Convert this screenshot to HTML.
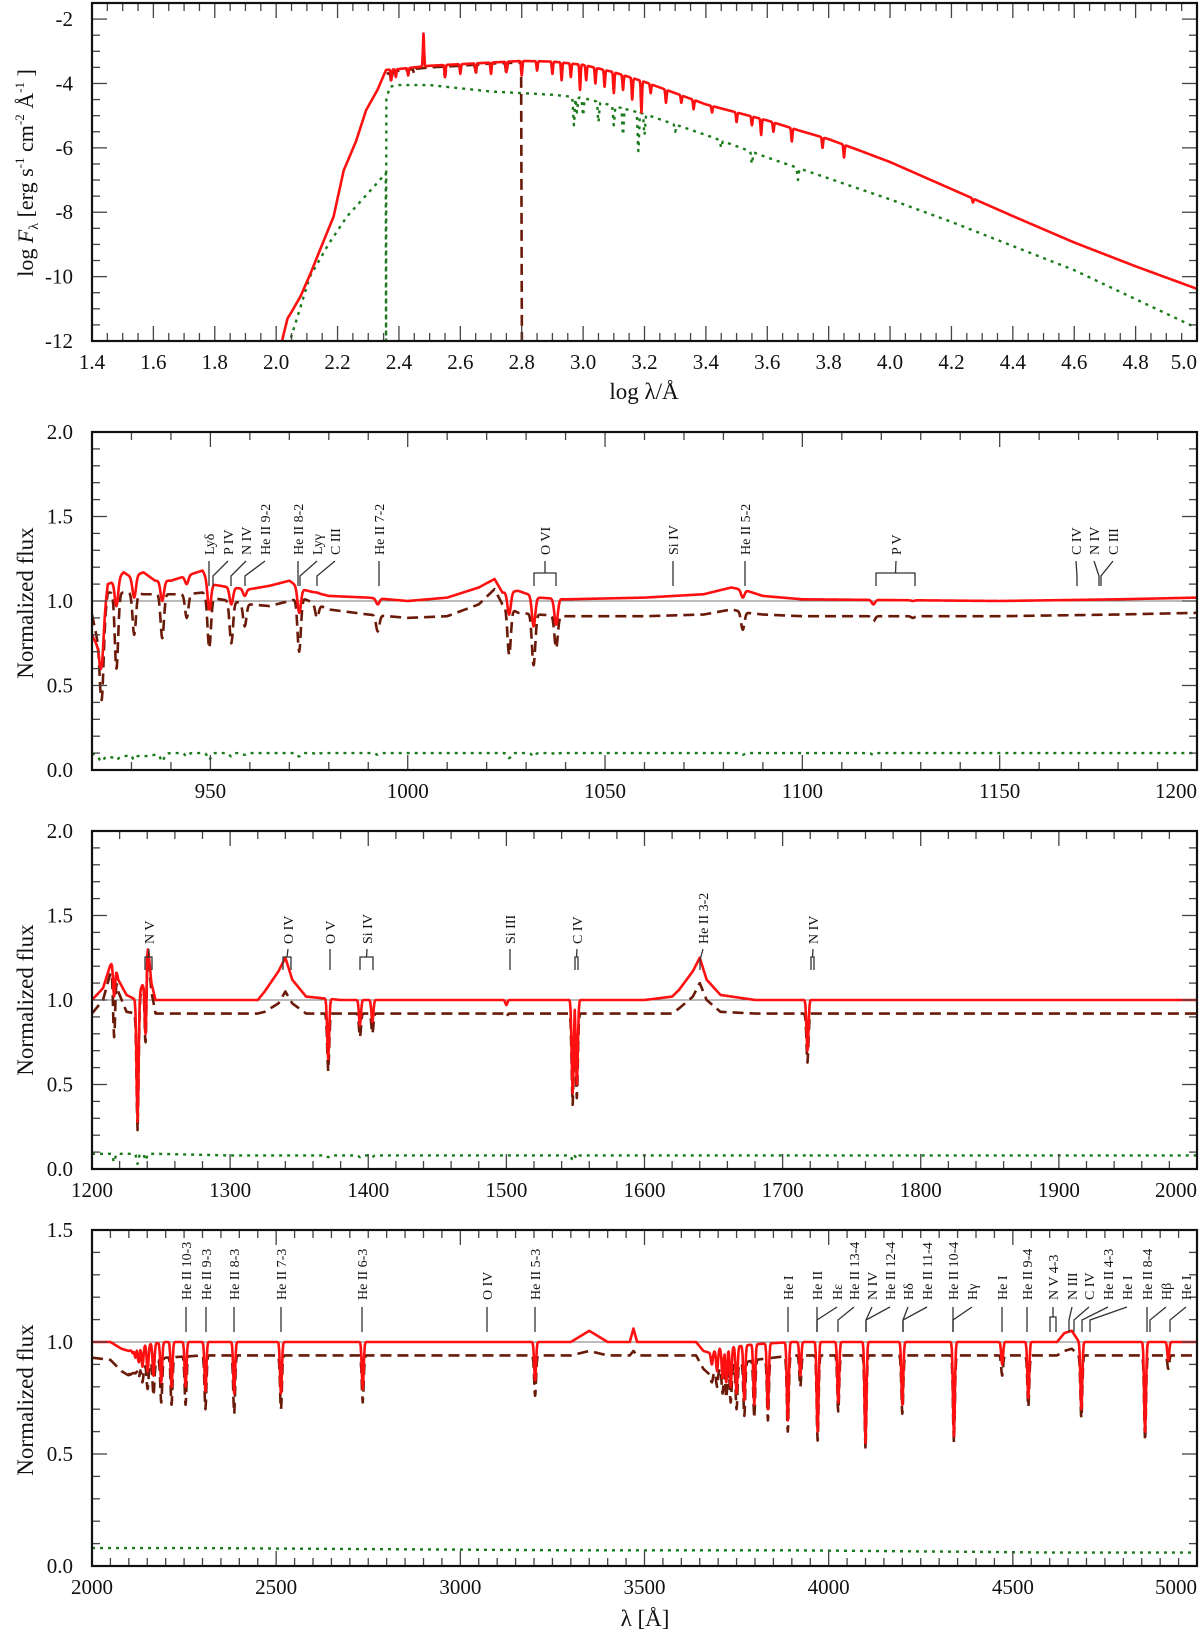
<!DOCTYPE html>
<html><head><meta charset="utf-8"><title>Spectral energy distribution and normalized spectra</title>
<style>
html,body{margin:0;padding:0;background:#fff;}
svg{display:block;font-family:"Liberation Serif",serif;}
</style></head>
<body>
<svg id="fig" width="1200" height="1634" viewBox="0 0 1200 1634" xmlns="http://www.w3.org/2000/svg"></svg>
<script>
// ---------- Panel 1 (SED) data ----------
const sedRedX=[2.019,2.037,2.05,2.08,2.112,2.15,2.187,2.22,2.26,2.293,2.33,2.358,2.4,2.5,2.6,2.7,2.8,2.9,3.0,3.1,3.2,3.3,3.4,3.5,3.6,3.7,3.8,3.9,4.0,4.2,4.4,4.6,4.8,5.0];
const sedRedY=[-12,-11.3,-11.1,-10.6,-9.9,-9.0,-8.14,-6.7,-5.8,-4.83,-4.2,-3.58,-3.55,-3.45,-3.4,-3.35,-3.3,-3.32,-3.42,-3.65,-3.95,-4.3,-4.65,-4.9,-5.15,-5.45,-5.73,-6.08,-6.44,-7.28,-8.12,-8.94,-9.68,-10.38];
const sedRedLineX=[2.48,2.375,2.39,2.43,2.55,2.6,2.65,2.7,2.75,2.8,2.85,2.9,2.93,2.96,2.99,3.01,3.04,3.07,3.1,3.13,3.16,3.19,3.22,3.27,3.32,3.36,3.42,3.5,3.55,3.58,3.62,3.68,3.78,3.85,4.27];
const sedRedLineY=[-2.45,-3.9,-3.8,-3.75,-3.8,-3.7,-3.65,-3.7,-3.65,-3.75,-3.6,-3.7,-3.9,-3.8,-4.2,-3.9,-4.0,-4.1,-4.3,-4.2,-4.5,-4.9,-4.3,-4.6,-4.6,-4.8,-4.9,-5.2,-5.3,-5.6,-5.5,-5.8,-6.0,-6.3,-7.7];
const sedBrownX=[2.36,2.4,2.5,2.6,2.7,2.798,2.8005];
const sedBrownY=[-3.7,-3.6,-3.5,-3.45,-3.38,-3.35,-12];
const sedBrownLineX=[2.375,2.45,2.55,2.65,2.75];
const sedBrownLineY=[-3.95,-3.7,-3.8,-3.7,-3.7];
const sedGreenX=[2.048,2.11,2.17,2.23,2.3,2.357,2.358,2.359,2.37,2.4,2.5,2.6,2.7,2.8,2.9,3.0,3.2,3.4,3.6,3.8,4.0,4.2,4.4,4.6,4.8,5.0];
const sedGreenY=[-11.9,-10.0,-9.0,-8.14,-7.4,-6.79,-12,-4.5,-4.1,-4.05,-4.05,-4.15,-4.25,-4.3,-4.35,-4.45,-4.95,-5.6,-6.3,-6.95,-7.6,-8.3,-9.05,-9.8,-10.7,-11.6];
const sedGreenLineX=[2.97,2.98,3.0,3.05,3.1,3.13,3.18,3.2,3.3,3.45,3.55,3.7];
const sedGreenLineY=[-5.3,-4.9,-5.0,-5.2,-5.3,-5.6,-6.1,-5.6,-5.5,-6.0,-6.5,-7.0];
const sedXTicks=[1.4,1.6,1.8,2.0,2.2,2.4,2.6,2.8,3.0,3.2,3.4,3.6,3.8,4.0,4.2,4.4,4.6,4.8,5.0];
const sedYTicks=[-2,-4,-6,-8,-10,-12];

// ---------- Panel 2 (FUV 920-1200) ----------
const p2ContX=[920,922,924,926,928,930,933,936,940,944,948,950,955,960,965,970,973,980,990,1000,1010,1018,1022,1024,1028,1033,1040,1060,1075,1082,1086,1090,1100,1150,1180,1200];
const p2RedCont=[0.8,0.7,1.1,1.12,1.17,1.14,1.17,1.12,1.12,1.15,1.18,1.1,1.08,1.07,1.09,1.12,1.07,1.03,1.02,1.0,1.02,1.08,1.13,1.05,1.06,1.02,1.01,1.02,1.04,1.08,1.06,1.03,1.01,1.0,1.01,1.02];
const p2BrownCont=[0.92,0.7,1.05,1.05,1.05,1.05,1.04,1.04,1.04,1.04,1.05,1.02,1.0,0.98,0.97,1.0,1.02,0.95,0.92,0.9,0.91,0.98,1.07,0.98,0.93,0.92,0.91,0.91,0.92,0.95,0.93,0.92,0.91,0.91,0.92,0.93];
const p2GreenCont=[0.1,0.07,0.08,0.07,0.08,0.09,0.08,0.09,0.1,0.1,0.1,0.1,0.1,0.1,0.1,0.1,0.1,0.1,0.1,0.1,0.1,0.1,0.1,0.1,0.1,0.1,0.1,0.1,0.1,0.1,0.1,0.1,0.1,0.1,0.1,0.1];
const p2LineX=[922.5,926.2,930.7,937.8,944,949.7,955.3,958.7,972.5,977,992.4,1025.7,1031.9,1037.6,1084.9,1118,1128];
const p2RedLine=[0.62,0.97,1.02,1.0,1.1,0.95,0.98,1.03,0.93,1.05,0.98,0.92,0.85,0.86,1.02,0.98,1.0];
const p2BrownLine=[0.42,0.6,0.8,0.78,0.9,0.72,0.75,0.85,0.7,0.9,0.82,0.68,0.62,0.72,0.83,0.88,0.9];
const p2GreenLine=[0.05,0.06,0.06,0.05,0.08,0.06,0.08,0.09,0.08,0.09,0.09,0.07,0.08,0.09,0.09,0.09,0.1];
const p2XTicks=[950,1000,1050,1100,1150,1200];

// ---------- Panel 3 (1200-2000) ----------
const p3ContX=[1200,1208,1213,1216,1219,1225,1232,1237,1240,1243,1246,1300,1320,1325,1335,1340,1345,1355,1380,1600,1620,1625,1635,1640,1645,1655,1680,2000];
const p3RedCont=[1.0,1.07,1.2,1.25,1.12,1.03,1.0,1.1,1.37,1.1,1.0,1.0,1.0,1.05,1.17,1.25,1.12,1.02,1.0,1.0,1.02,1.06,1.17,1.25,1.12,1.03,1.0,1.0];
const p3BrownCont=[0.92,1.0,1.15,1.2,1.05,0.93,0.92,1.1,1.35,1.05,0.92,0.92,0.92,0.93,0.98,1.05,0.98,0.92,0.92,0.92,0.92,0.95,1.02,1.1,1.0,0.93,0.92,0.92];
const p3GreenCont=[0.09,0.09,0.09,0.09,0.09,0.09,0.09,0.09,0.09,0.09,0.09,0.08,0.08,0.08,0.08,0.08,0.08,0.08,0.08,0.08,0.08,0.08,0.08,0.08,0.08,0.08,0.08,0.08];
const p3LineX=[1216,1233,1238.8,1371,1394,1403,1500,1548,1551,1718];
const p3RedLine=[1.02,0.28,0.8,0.65,0.85,0.87,0.97,0.45,0.5,0.7];
const p3BrownLine=[0.78,0.23,0.75,0.58,0.78,0.8,0.9,0.38,0.42,0.63];
const p3GreenLine=[0.04,0.03,0.05,0.07,0.07,0.07,0.08,0.05,0.06,0.07];
const p3XTicks=[1200,1300,1400,1500,1600,1700,1800,1900,2000];

// ---------- Panel 4 (2000-5000) ----------
const p4ContX=[2000,2050,2080,2100,2150,2200,2300,3300,3350,3400,3460,3470,3480,3640,3660,3680,3700,3750,3800,3900,4620,4640,4660,4680,5000];
const p4RedCont=[1.0,1.0,0.97,0.96,0.99,1.0,1.0,1.0,1.05,1.0,1.0,1.06,1.0,1.0,0.96,0.95,0.97,0.98,0.99,1.0,1.0,1.04,1.05,1.0,1.0];
const p4BrownCont=[0.93,0.92,0.87,0.85,0.9,0.93,0.94,0.94,0.96,0.94,0.94,0.96,0.94,0.94,0.88,0.85,0.88,0.9,0.92,0.94,0.94,0.96,0.97,0.94,0.94];
const p4GreenCont=[0.08,0.08,0.08,0.08,0.08,0.08,0.08,0.07,0.07,0.07,0.07,0.07,0.07,0.07,0.07,0.07,0.07,0.07,0.07,0.07,0.06,0.06,0.06,0.06,0.06];
const p4LineX=[2106,2111,2118,2127,2137,2151,2167,2188,2216,2254,2308,2386,2513,2735,3203,3683,3697,3712,3722,3734,3750,3771,3798,3835,3889,3923,3970,4026,4100,4200,4340,4471,4542,4686,4859,4922];
const p4RedLine=[0.97,0.95,0.93,0.91,0.89,0.87,0.85,0.82,0.8,0.8,0.78,0.77,0.77,0.79,0.83,0.9,0.87,0.84,0.82,0.8,0.77,0.74,0.72,0.7,0.65,0.85,0.6,0.73,0.55,0.72,0.58,0.9,0.75,0.7,0.6,0.92];
const p4BrownLine=[0.9,0.88,0.86,0.84,0.82,0.79,0.76,0.73,0.72,0.72,0.7,0.68,0.7,0.73,0.76,0.82,0.8,0.77,0.75,0.73,0.7,0.67,0.66,0.65,0.6,0.8,0.56,0.69,0.52,0.68,0.55,0.85,0.71,0.66,0.56,0.88];
const p4XTicks=[2000,2500,3000,3500,4000,4500,5000];

const normYTicks=[0.0,0.5,1.0,1.5,2.0];
const norm4YTicks=[0.0,0.5,1.0,1.5];

// ---------- drawing ----------
const NS='http://www.w3.org/2000/svg';
const svg=document.getElementById('fig');
function mk(tag,attrs,parent){const e=document.createElementNS(NS,tag);for(const k in attrs)e.setAttribute(k,attrs[k]);(parent||svg).appendChild(e);return e;}
function interp(xs,ys,x){if(x<=xs[0])return ys[0];for(let i=1;i<xs.length;i++){if(x<=xs[i]){const t=(x-xs[i-1])/(xs[i]-xs[i-1]);return ys[i-1]+t*(ys[i]-ys[i-1]);}}return ys[ys.length-1];}

function makePanel(c){
  c.sx=v=>c.px0+(v-c.x0)/(c.x1-c.x0)*(c.px1-c.px0);
  c.sy=v=>c.py0+(v-c.y0)/(c.y1-c.y0)*(c.py1-c.py0);
  const g=mk('g',{});
  
  
  c.g=g;
  const cp=mk('clipPath',{id:'clip-'+c.name},g);
  mk('rect',{x:c.px0,y:c.py1,width:c.px1-c.px0,height:c.py0-c.py1},cp);
  c.plot=mk('g',{'clip-path':'url(#clip-'+c.name+')'},g);
  
  
  return c;
}
function drawAxes(c,xTicks,yTicks,xFmt,yFmt){
  const g=c.g, tk='#444';
  const nMin=Math.round((c.x1-c.x0)/c.xMin);
  for(let i=0;i<=nMin;i++){
    const v=c.x0+i*c.xMin, x=c.sx(v);
    const maj=Math.abs(v/c.xMaj-Math.round(v/c.xMaj))<1e-6;
    const L=maj?15:8;
    const t1=mk('line',{x1:x,y1:c.py0,x2:x,y2:c.py0-L,stroke:tk,'stroke-width':1.3},g);
    
    
    const t2=mk('line',{x1:x,y1:c.py1,x2:x,y2:c.py1+L,stroke:tk,'stroke-width':1.3},g);
    
    
  }
  const nYm=Math.round((c.y1-c.y0)/c.yMin);
  for(let i=0;i<=nYm;i++){
    const v=c.y0+i*c.yMin, y=c.sy(v);
    const maj=Math.abs(v/c.yMaj-Math.round(v/c.yMaj))<1e-6;
    const L=maj?15:8;
    const t1=mk('line',{x1:c.px0,y1:y,x2:c.px0+L,y2:y,stroke:tk,'stroke-width':1.3},g);
    
    
    const t2=mk('line',{x1:c.px1,y1:y,x2:c.px1-L,y2:y,stroke:tk,'stroke-width':1.3},g);
    
    
  }
  xTicks.forEach(v=>{
    let x=c.sx(v), anchor='middle';
    if(x>c.px1-20){x=c.px1;anchor='end';}
    const t=mk('text',{x:x,y:c.py0+28,'text-anchor':anchor,'font-size':21,fill:'#111'},g);
    t.textContent=xFmt(v);
    
    
  });
  yTicks.forEach(v=>{
    const t=mk('text',{x:73,y:c.sy(v)+7,'text-anchor':'end','font-size':21,fill:'#111'},g);
    t.textContent=yFmt(v);
    
    
  });
  const fr=mk('rect',{x:c.px0,y:c.py1,width:c.px1-c.px0,height:c.py0-c.py1,fill:'none',stroke:'#111','stroke-width':2.2},g);
  
  
}
function spectrum(c,cx,cy,lx,ly,w,style,name){
  const xs=[];
  const N=1600;
  for(let i=0;i<=N;i++)xs.push(c.x0+(c.x1-c.x0)*i/N);
  cx.forEach(v=>xs.push(v));
  lx.forEach(v=>{xs.push(v);xs.push(v-w*0.5);xs.push(v+w*0.5);});
  xs.sort((a,b)=>a-b);
  const lo=cx[0], hi=cx[cx.length-1];
  const pts=[];
  xs.forEach(x=>{
    if(x<lo||x>hi)return;
    const cont=interp(cx,cy,x);
    let val=cont;
    for(let j=0;j<lx.length;j++){
      const d=(x-lx[j])/w; if(Math.abs(d)>4)continue;
      const cAt=interp(cx,cy,lx[j]);
      const v=cont+(ly[j]-cAt)*Math.exp(-d*d);
      if(ly[j]<cAt)val=Math.min(val,v);else val=Math.max(val,v);
    }
    pts.push(c.sx(x).toFixed(2)+','+c.sy(val).toFixed(2));
  });
  const p=mk('polyline',Object.assign({points:pts.join(' '),fill:'none','stroke-linejoin':'round'},style),c.plot);
  
  
}
const RED={stroke:'#ff1010','stroke-width':2.6};
const BROWN={stroke:'#6a1a08','stroke-width':2.6,'stroke-dasharray':'11,6'};
const GREEN={stroke:'#1b7a1b','stroke-width':2.4,'stroke-dasharray':'3,5'};

function refLine(c){
  const l=mk('line',{x1:c.px0,y1:c.sy(1),x2:c.px1,y2:c.sy(1),stroke:'#777','stroke-width':1},c.plot);
  
  
}
function annotate(c,list,yb,yl,yBend,yBot){
  list.forEach(a=>{
    const [txt,tx,l1,l2]=a;
    const t=mk('text',{transform:'translate('+tx+','+yb+') rotate(-90)',dy:'0.35em','font-size':14,fill:'#111'},c.g);
    t.textContent=txt;
    
    
    let d;
    if(l2===undefined){d='M'+tx+','+yl+' L'+l1+','+yBend+' L'+l1+','+yBot;}
    else{const m=(l1+l2)/2;d='M'+tx+','+yl+' L'+m+','+(yBend-3)+' M'+l1+','+yBot+' L'+l1+','+(yBend-3)+' L'+l2+','+(yBend-3)+' L'+l2+','+yBot;}
    const p=mk('path',{d:d,fill:'none',stroke:'#333','stroke-width':1.3},c.g);
    
    
  });
}
function axisTitle(x,y,txt,rot,name){
  const t=mk('text',{x:x,y:y,'text-anchor':'middle','font-size':23,fill:'#111',transform:rot?'rotate(-90 '+x+' '+y+')':''});
  t.textContent=txt;
  
  
  return t;
}

// Panel 1
const c1=makePanel({name:'sed-panel',x0:1.4,x1:5.0,px0:92,px1:1197,y0:-12,y1:-1.5,py0:341,py1:3,xMaj:0.2,xMin:0.05,yMaj:2,yMin:0.5});
spectrum(c1,sedGreenX,sedGreenY,sedGreenLineX,sedGreenLineY,0.003,GREEN,'sed-green-dotted');
spectrum(c1,sedBrownX,sedBrownY,sedBrownLineX,sedBrownLineY,0.003,BROWN,'sed-brown-dashed');
spectrum(c1,sedRedX,sedRedY,sedRedLineX,sedRedLineY,0.0025,RED,'sed-red-solid');
drawAxes(c1,sedXTicks,sedYTicks,v=>v.toFixed(1),v=>String(v));
axisTitle(644,399,'log λ/Å',false,'x-axis-title-sed');
(function(){
  const t=mk('text',{x:33,y:173,'text-anchor':'middle','font-size':22,fill:'#111',transform:'rotate(-90 33 173)'});
  
  
  t.innerHTML='log <tspan font-style="italic">F</tspan><tspan font-size="14" dy="5">λ</tspan><tspan dy="-5"> [erg s</tspan><tspan font-size="13" dy="-9">-1</tspan><tspan dy="9"> cm</tspan><tspan font-size="13" dy="-9">-2</tspan><tspan dy="9"> Å</tspan><tspan font-size="13" dy="-9">-1</tspan><tspan dy="9"> ]</tspan>';
})();

// Panel 2
const c2=makePanel({name:'fuv-panel',x0:920,x1:1200,px0:92,px1:1197,y0:0,y1:2,py0:770,py1:432,xMaj:50,xMin:10,yMaj:0.5,yMin:0.1});
refLine(c2);
spectrum(c2,p2ContX,p2GreenCont,p2LineX,p2GreenLine,0.6,GREEN,'fuv-green-dotted');
spectrum(c2,p2ContX,p2BrownCont,p2LineX,p2BrownLine,0.6,BROWN,'fuv-brown-dashed');
spectrum(c2,p2ContX,p2RedCont,p2LineX,p2RedLine,0.6,RED,'fuv-red-solid');
drawAxes(c2,p2XTicks,normYTicks,v=>String(v),v=>v.toFixed(1));
axisTitle(33,603,'Normalized flux',true,'y-axis-title-fuv');
annotate(c2,[['Lyδ',209,209],['P IV',228,213],['N IV',246,231],['He II 9-2',265,245],['He II 8-2',298,298],['Lyγ',317,300],['C III',335,317],['He II 7-2',379,379],['O VI',545,534,556],['Si IV',673,673],['He II 5-2',745,745],['P V',896,876,915],['C IV',1076,1077],['N IV',1094,1099],['C III',1113,1101]],555,561,576,586);

// Panel 3
const c3=makePanel({name:'uv-panel',x0:1200,x1:2000,px0:92,px1:1197,y0:0,y1:2,py0:1169,py1:831,xMaj:100,xMin:20,yMaj:0.5,yMin:0.1});
refLine(c3);
spectrum(c3,p3ContX,p3GreenCont,p3LineX,p3GreenLine,1.0,GREEN,'uv-green-dotted');
spectrum(c3,p3ContX,p3BrownCont,p3LineX,p3BrownLine,1.0,BROWN,'uv-brown-dashed');
spectrum(c3,p3ContX,p3RedCont,p3LineX,p3RedLine,1.0,RED,'uv-red-solid');
drawAxes(c3,p3XTicks,normYTicks,v=>String(v),v=>v.toFixed(1));
axisTitle(33,1000,'Normalized flux',true,'y-axis-title-uv');
annotate(c3,[['N V',149,145,152],['O IV',288,283,291],['O V',330,330],['Si IV',367,360,373],['Si III',510,510],['C IV',577,575,578],['He II 3-2',703,700],['N IV',813,811,814]],944,949,960,970);

// Panel 4
const c4=makePanel({name:'optical-panel',x0:2000,x1:5000,px0:92,px1:1197,y0:0,y1:1.5,py0:1566,py1:1230,xMaj:500,xMin:50,yMaj:0.5,yMin:0.1});
refLine(c4);
spectrum(c4,p4ContX,p4GreenCont,[],[],4,GREEN,'optical-green-dotted');
spectrum(c4,p4ContX,p4BrownCont,p4LineX,p4BrownLine,3.5,BROWN,'optical-brown-dashed');
spectrum(c4,p4ContX,p4RedCont,p4LineX,p4RedLine,3.5,RED,'optical-red-solid');
drawAxes(c4,p4XTicks,norm4YTicks,v=>String(v),v=>v.toFixed(1));
axisTitle(33,1400,'Normalized flux',true,'y-axis-title-optical');
axisTitle(645,1626,'λ [Å]',false,'x-axis-title-optical');
annotate(c4,[['He II 10-3',186,186],['He II 9-3',206,206],['He II 8-3',234,234],['He II 7-3',281,281],['He II 6-3',362,362],['O IV',487,487],['He II 5-3',535,535],['He I',788,788],['He II',817,817],['Hε',837,817],['He II 13-4',854,838],['N IV',872,866],['He II 12-4',890,866],['Hδ',908,903],['He II 11-4',927,903],['He II 10-4',953,953],['Hγ',972,953],['He I',1002,1002],['He II 9-4',1027,1027],['N V 4-3',1053,1050,1056],['N III',1072,1069],['C IV',1089,1074],['He II 4-3',1108,1082],['He I',1127,1090],['He II 8-4',1147,1147],['Hβ',1166,1150],['He I',1186,1170]],1300,1307,1320,1332);
</script>
</body></html>
